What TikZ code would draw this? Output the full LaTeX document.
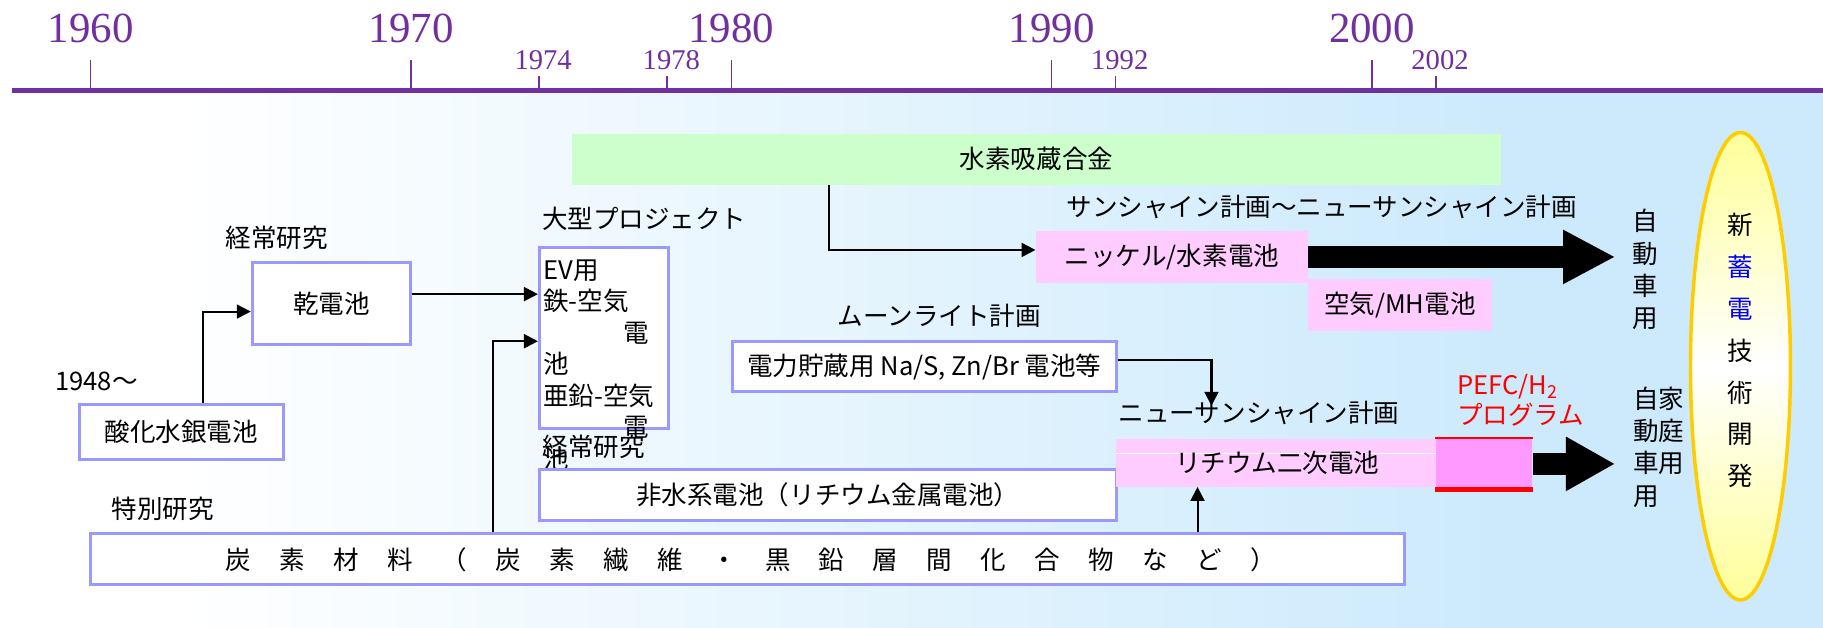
\documentclass[tikz,border=0pt]{standalone}
\usepackage{fontspec}
\newfontfamily\jpfont{Noto Sans CJK JP}
\newfontfamily\yearfont{Liberation Serif}
\usepackage{xcolor}
\usepackage{tikz}
\usetikzlibrary{positioning,arrows.meta,calc,shapes.geometric}
\definecolor{axiscolor}{RGB}{112,48,160}
\definecolor{boxcolor}{RGB}{153,153,255}
\definecolor{alloycolor}{RGB}{204,255,204}
\definecolor{pinkcolor}{RGB}{255,204,255}
\definecolor{pefccolor}{RGB}{255,153,255}
\definecolor{goldcolor}{RGB}{255,204,0}
\definecolor{lightyellow}{RGB}{255,255,153}
\definecolor{skycolor}{RGB}{204,234,252}
\tikzset{
    jp text/.style={font=\jpfont\fontsize{12.5}{15.5}\selectfont, inner sep=0pt},
    year major/.style={font=\yearfont\fontsize{21}{21}\selectfont, text=axiscolor, inner sep=0pt},
    year minor/.style={font=\yearfont\fontsize{14}{14}\selectfont, text=axiscolor, inner sep=0pt},
    time axis/.style={axiscolor, line width=0.08cm},
    axis tick/.style={axiscolor, line width=0.75pt},
    plan box/.style={jp text, rectangle, draw=boxcolor, line width=1.5pt, fill=white},
    alloy box/.style={jp text, rectangle, fill=alloycolor},
    pink box/.style={jp text, rectangle, fill=pinkcolor},
    vertical text/.style={jp text, align=center, font=\jpfont\fontsize{12.5}{15.8}\selectfont},
    link/.style={-{Triangle[length=0.24cm,width=0.24cm]}, line width=1pt},
    big arrow/.style={-{Triangle[length=#1,width=0.94cm,line width=0pt]}, line width=0.39cm}
}

\begin{document}
\begin{tikzpicture}
    % Background - white above the axis, white to sky gradient below
    \useasboundingbox (0,0) rectangle (31.36,10.8);
    \fill[white] (0,0) rectangle (31.36,10.8);
    \shade[left color=white, right color=skycolor] (3,0) rectangle (26,9.24);
    \fill[skycolor] (26,0) rectangle (31.36,9.24);

    % Time axis with decade ticks and marked years
    \draw[time axis] (0.2,9.24) -- (31.36,9.24);
    \foreach \yr in {1960,1970,1980,1990,2000} {
        \draw[axis tick] ({1.56+(\yr-1960)*0.551},9.24) -- ++(0,0.53);
        \node[year major] (year\yr) at ({1.56+(\yr-1960)*0.551},10.31) {\yr};
    }
    \foreach \yr in {1974,1978,1992,2002} {
        \draw[axis tick] ({1.56+(\yr-1960)*0.551},9.24) -- ++(0,0.25);
        \node[year minor] (year\yr) at ({1.63+(\yr-1960)*0.551},9.77) {\yr};
    }

    % Early research - mercury oxide and dry cells
    \node[plan box, minimum width=3.52cm, minimum height=0.94cm] (mercury) at (3.12,3.37) {酸化水銀電池};
    \node[jp text] (mercuryYear) at (1.66,4.24) {1948〜};
    \node[plan box, minimum width=2.72cm, minimum height=1.40cm] (drycell) at (5.70,5.58) {乾電池};
    \node[jp text] (regularA) at (4.76,6.70) {経常研究};

    % Large project box with its wrapped text
    \node[plan box, minimum width=2.22cm, minimum height=3.12cm] (project) at (10.39,4.99) {};
    \node[jp text, anchor=north west, align=left, font=\jpfont\fontsize{12.5}{15.4}\selectfont] (projectText) at (9.34,6.34)
        {EV用\\鉄-空気\\\hspace*{3.15em}電\\池\\亜鉛-空気\\\hspace*{3.15em}電\\池};
    \node[jp text, anchor=west] (projectLabel) at (9.32,7.04) {大型プロジェクト};
    \node[jp text, anchor=west] (regularB) at (9.33,3.12) {経常研究};

    % Non-aqueous cells and carbon materials
    \node[plan box, minimum width=9.92cm, minimum height=0.88cm] (nonaqueous) at (14.24,2.28) {非水系電池（リチウム金属電池）};
    \node[jp text] (special) at (2.80,2.04) {特別研究};
    \node[plan box, minimum width=22.6cm, minimum height=0.88cm] (carbon) at (12.86,1.18) {};
    \foreach \ch [count=\i from 0] in {炭,素,材,料,（,炭,素,繊,維,・,黒,鉛,層,間,化,合,物,な,ど,）}
        \node[jp text, anchor=base] (carbon\i) at ({4.10+0.928*\i},1.01) {\ch};

    % Hydrogen storage alloy and nickel line
    \node[alloy box, minimum width=15.98cm, minimum height=0.88cm] (alloy) at (17.83,8.06) {水素吸蔵合金};
    \node[jp text] (sunshine) at (22.74,7.24) {サンシャイン計画〜ニューサンシャイン計画};
    \node[pink box, minimum width=4.68cm, minimum height=0.88cm] (nickel) at (20.16,6.38) {ニッケル/水素電池};
    \node[pink box, minimum width=3.16cm, minimum height=0.90cm] (airmh) at (24.08,5.55) {空気/MH電池};
    \node[vertical text] (car) at (28.30,6.16) {自\\動\\車\\用};

    % Moonlight project and lithium secondary cells
    \node[jp text] (moonlight) at (16.16,5.36) {ムーンライト計画};
    \node[plan box, minimum width=6.6cm, minimum height=0.86cm] (power) at (15.9,4.49) {電力貯蔵用 Na/S, Zn/Br 電池等};
    \node[jp text, anchor=west] (newSunshine) at (19.24,3.70) {ニューサンシャイン計画};
    \coordinate (powerDrop) at (20.84,3.82);
    \node[pink box, minimum width=5.54cm, minimum height=0.82cm,
        path picture={\draw[white, line width=0.5pt] ([yshift=-0.25cm]path picture bounding box.north west) -- ([yshift=-0.25cm]path picture bounding box.north east);}]
        (lithium) at (21.97,2.84) {リチウム二次電池};
    \node[rectangle, fill=pefccolor, minimum width=1.66cm, minimum height=0.88cm, inner sep=0pt] (pefc) at (25.53,2.82) {};
    \draw[red, line width=0.04cm] (pefc.north west) -- (pefc.north east);
    \draw[red, line width=0.09cm] (pefc.south west) -- (pefc.south east);
    \node[jp text, anchor=west, align=left, text=red, font=\jpfont\fontsize{12.5}{14.5}\selectfont] (pefcLabel) at (25.06,3.92) {PEFC/H\textsubscript{2}\\プログラム};
    \node[vertical text, anchor=west, align=left] (home) at (28.09,3.11) {自家\\動庭\\車用\\用};

    % New storage technology ellipse
    \node[ellipse, draw=goldcolor, line width=1.7pt, top color=lightyellow, bottom color=lightyellow, middle color=white,
        minimum width=1.72cm, minimum height=8.04cm, inner sep=0pt] (newtech) at (29.94,4.50) {};
    \node[jp text, align=center, font=\jpfont\fontsize{12.5}{20.5}\selectfont] (newtechText) at (29.94,4.77)
        {新\\\textcolor{blue}{蓄}\\\textcolor{blue}{電}\\技\\術\\開\\発};

    % Connectors between the research lines
    \coordinate (dryOut) at ([yshift=0.16cm]drycell.east);
    \coordinate (carbonUpA) at ([xshift=-4.38cm]carbon.north);
    \coordinate (carbonUpB) at ([xshift=7.74cm]carbon.north);
    \coordinate (alloyDown) at ([xshift=-3.57cm]alloy.south);
    \draw[link] ([xshift=0.38cm]mercury.north) |- ([yshift=-0.14cm]drycell.west);
    \draw[link] (dryOut) -- (dryOut -| project.west);
    \draw[link] (carbonUpA) |- ([yshift=-0.06cm]project.west);
    \draw[link] (carbonUpB) -- (carbonUpB |- lithium.south);
    \draw[link] (alloyDown) |- ([yshift=0.12cm]nickel.west);
    \draw[link] ([yshift=0.12cm]power.east) -| (powerDrop);

    % Block arrows to the applications
    \path (nickel.east) ++(5.26,0) coordinate (carTip);
    \draw[big arrow=0.88cm] (nickel.east) -- (carTip);
    \path (pefc.east) ++(1.40,0) coordinate (homeTip);
    \draw[big arrow=0.83cm] (pefc.east) -- (homeTip);
\end{tikzpicture}
\end{document}
